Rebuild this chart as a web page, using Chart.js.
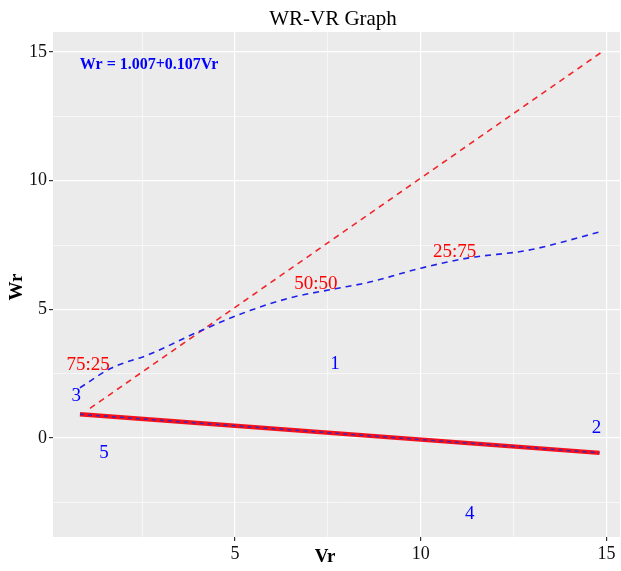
<!DOCTYPE html>
<html>
<head>
<meta charset="utf-8">
<script src="https://cdn.jsdelivr.net/npm/chart.js@4/dist/chart.umd.min.js"></script>
<style>
	html, body { margin: 0; padding: 0; background: #fff; }
	#wrap { width: 621px; height: 571px; }
</style>
</head>
<body>
<div id="wrap"><canvas id="chart" width="621" height="571"></canvas></div>
<script>
// 1:1 reference line
const equalVr = [1.1, 14.87];
const equalWr = [1.15, 15.0];

// blue dashed curve
const curveVr = [0.83, 1.65, 2.7, 4.05, 5.4, 6.5, 7.7, 8.6, 10.0, 11.3, 12.9, 14.8];
const curveWr = [1.95, 2.7, 3.25, 4.15, 4.95, 5.45, 5.8, 6.05, 6.6, 7.0, 7.3, 8.0];

// fitted line
const fitVr = [0.83, 14.81];
const fitWr = [0.92, -0.58];

// text labels placed in data coordinates
const redLabels = [
	{ text: '75:25', x: 1.05, y: 2.84 },
	{ text: '50:50', x: 7.18, y: 6.0 },
	{ text: '25:75', x: 10.91, y: 7.24 },
];
const blueLabels = [
	{ text: '3', x: 0.73, y: 1.63 },
	{ text: '1', x: 7.69, y: 2.88 },
	{ text: '2', x: 14.73, y: 0.39 },
	{ text: '5', x: 1.48, y: -0.58 },
	{ text: '4', x: 11.32, y: -2.96 },
];
const equation = { text: 'Wr = 1.007+0.107Vr', x: 2.69, y: 14.5 };

const xTicks = [5, 10, 15];
const yTicks = [0, 5, 10, 15];

const serif = '"Liberation Serif", "DejaVu Serif", serif';

function toPoints(xs, ys) {
	return xs.map((x, i) => ({ x, y: ys[i] }));
}

const panelBg = {
	id: 'panelBg',
	beforeDraw(chart) {
		const { ctx, chartArea: a } = chart;
		ctx.save();
		ctx.fillStyle = '#EBEBEB';
		ctx.fillRect(a.left, a.top, a.right - a.left, a.bottom - a.top);
		ctx.restore();
	},
};

const textLayer = {
	id: 'textLayer',
	afterDatasetsDraw(chart) {
		const { ctx } = chart;
		const xs = chart.scales.x;
		const ys = chart.scales.y;
		ctx.save();
		ctx.textAlign = 'center';
		ctx.textBaseline = 'middle';
		ctx.fillStyle = 'red';
		ctx.font = '19px ' + serif;
		redLabels.forEach((l) => ctx.fillText(l.text, xs.getPixelForValue(l.x), ys.getPixelForValue(l.y)));
		ctx.fillStyle = 'blue';
		blueLabels.forEach((l) => ctx.fillText(l.text, xs.getPixelForValue(l.x), ys.getPixelForValue(l.y)));
		ctx.font = 'bold 16px ' + serif;
		ctx.fillText(equation.text, xs.getPixelForValue(equation.x), ys.getPixelForValue(equation.y));
		ctx.restore();
	},
	afterDraw(chart) {
		const { ctx } = chart;
		ctx.save();
		ctx.fillStyle = '#000';
		ctx.textAlign = 'center';
		ctx.textBaseline = 'middle';
		ctx.font = '21px ' + serif;
		ctx.fillText('WR-VR Graph', 333, 19);
		ctx.font = 'bold 19px ' + serif;
		ctx.fillText('Vr', 325, 557);
		ctx.translate(17, 287);
		ctx.rotate(-Math.PI / 2);
		ctx.fillText('Wr', 0, 0);
		ctx.restore();
	},
};

function axisOptions(min, max, majors, size) {
	return {
		type: 'linear',
		min,
		max,
		border: { display: false },
		grid: {
			color: '#FFFFFF',
			lineWidth: (c) => (c.tick.value % 5 === 0 ? 1.2 : 0.6),
			drawTicks: true,
			tickLength: 4,
			tickColor: (c) => (majors.includes(c.tick.value) ? '#333333' : 'rgba(0,0,0,0)'),
		},
		ticks: {
			stepSize: 2.5,
			includeBounds: false,
			autoSkip: false,
			maxRotation: 0,
			padding: 2,
			color: '#111',
			font: { family: serif, size: 18 },
			callback: (v) => (majors.includes(v) ? String(v) : ''),
		},
		afterFit(scale) {
			if (scale.axis === 'x') {
				scale.height = size;
			} else {
				scale.width = size;
			}
		},
	};
}

const ctx = document.getElementById('chart').getContext('2d');
// eslint-disable-next-line no-new
new Chart(ctx, {
	type: 'line',
	data: {
		datasets: [
			{
				data: toPoints(equalVr, equalWr),
				borderColor: '#F0262B',
				borderWidth: 1.6,
				borderDash: [6, 5],
				pointRadius: 0,
				order: 4,
			},
			{
				data: toPoints(curveVr, curveWr),
				borderColor: '#2020E8',
				borderWidth: 1.6,
				borderDash: [6, 5],
				pointRadius: 0,
				cubicInterpolationMode: 'monotone',
				order: 3,
			},
			{
				data: toPoints(fitVr, fitWr),
				borderColor: '#F5101A',
				borderWidth: 4.5,
				pointRadius: 0,
				order: 2,
			},
			{
				data: toPoints(fitVr, fitWr),
				borderColor: 'rgba(50, 40, 190, 0.9)',
				borderWidth: 1.5,
				borderDash: [4, 4],
				pointRadius: 0,
				order: 1,
			},
		],
	},
	options: {
		responsive: false,
		animation: false,
		layout: { padding: { top: 32, right: 1, bottom: 0, left: 0 } },
		plugins: { legend: { display: false }, tooltip: { enabled: false } },
		scales: {
			x: axisOptions(0.105, 15.36, xTicks, 34),
			y: axisOptions(-3.85, 15.78, yTicks, 53),
		},
	},
	plugins: [panelBg, textLayer],
});
</script>
</body>
</html>
